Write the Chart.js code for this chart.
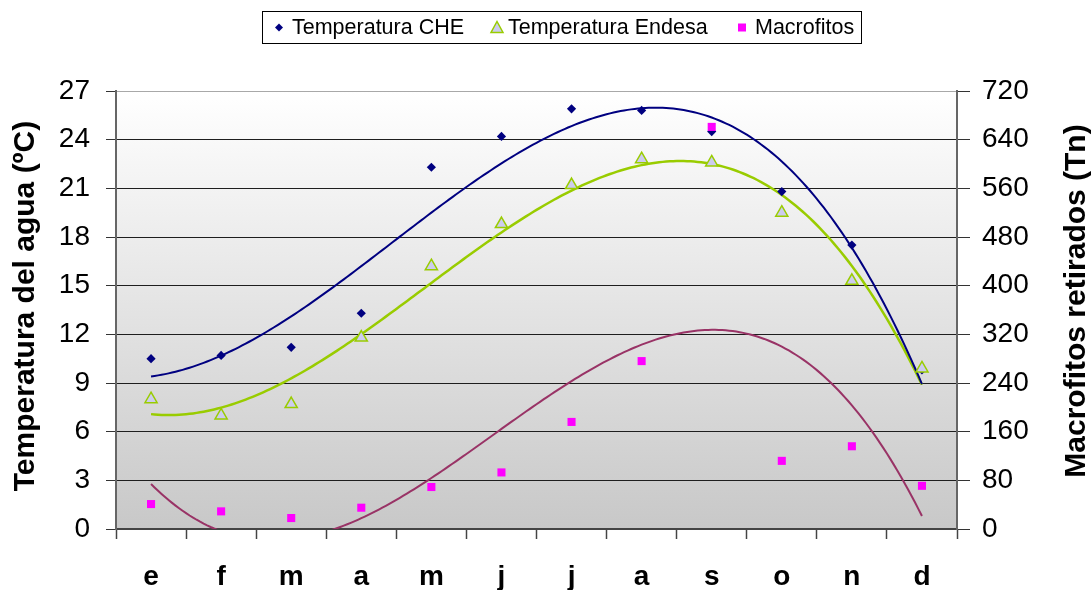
<!DOCTYPE html>
<html>
<head>
<meta charset="utf-8">
<script src="https://cdn.jsdelivr.net/npm/chart.js@4.4.1/dist/chart.umd.min.js"></script>
<style>
  html, body { margin: 0; padding: 0; background: #fff; }
  canvas { display: block; }
</style>
</head>
<body>
<canvas id="chart" width="1091" height="590"></canvas>
<script>
// Data
const months = ['e', 'f', 'm', 'a', 'm', 'j', 'j', 'a', 's', 'o', 'n', 'd'];
const seriesNames = ['Temperatura CHE', 'Temperatura Endesa', 'Macrofitos'];
const tempCHE = [10.5, 10.7, 11.2, 13.3, 22.3, 24.2, 25.9, 25.8, 24.5, 20.8, 17.5, 9.8];
const tempEndesa = [8.0, 7.0, 7.7, 11.8, 16.2, 18.8, 21.2, 22.8, 22.6, 19.5, 15.3, 9.9];
const macrofitos = [41, 29, 18, 35, 69, 93, 176, 276, 661, 112, 136, 71];
const tempTicks = [0, 3, 6, 9, 12, 15, 18, 21, 24, 27];
const macroTicks = [0, 80, 160, 240, 320, 400, 480, 560, 640, 720];

const FONT = '"Liberation Sans", Arial, sans-serif';
Chart.defaults.font.family = FONT;
Chart.defaults.color = '#000';

// least squares polynomial (like an Excel polynomial trendline)
function polyFit(xs, ys, order) {
  const n = order + 1;
  const A = Array.from({ length: n }, () => new Array(n + 1).fill(0));
  for (let k = 0; k < xs.length; k++) {
    for (let i = 0; i < n; i++) {
      for (let j = 0; j < n; j++) A[i][j] += Math.pow(xs[k], i + j);
      A[i][n] += ys[k] * Math.pow(xs[k], i);
    }
  }
  for (let c = 0; c < n; c++) {
    let p = c;
    for (let r = c + 1; r < n; r++) if (Math.abs(A[r][c]) > Math.abs(A[p][c])) p = r;
    [A[c], A[p]] = [A[p], A[c]];
    for (let r = 0; r < n; r++) {
      if (r === c) continue;
      const f = A[r][c] / A[c][c];
      for (let k = c; k <= n; k++) A[r][k] -= f * A[c][k];
    }
  }
  return A.map((row, i) => row[n] / row[i]);
}

function trendPoints(values, order) {
  const xs = values.map((_, i) => i + 1);
  const coef = polyFit(xs, values, order);
  const pts = [];
  for (let x = 1; x <= 12.0001; x += 0.05) {
    let y = 0;
    coef.forEach((c, i) => { y += c * Math.pow(x, i); });
    pts.push({ x: x, y: y });
  }
  return pts;
}

const asPoints = vals => vals.map((v, i) => ({ x: i + 1, y: v }));

const plotBackground = {
  id: 'plotBackground',
  beforeDraw(chart) {
    const { ctx, chartArea: a } = chart;
    const g = ctx.createLinearGradient(0, a.top, 0, a.bottom);
    g.addColorStop(0, '#ffffff');
    g.addColorStop(1, '#c8c8c8');
    ctx.save();
    ctx.fillStyle = g;
    ctx.fillRect(a.left, a.top, a.right - a.left, a.bottom - a.top);
    ctx.restore();
  }
};

const axisTitles = {
  id: 'axisTitles',
  afterDraw(chart) {
    const ctx = chart.ctx;
    ctx.save();
    ctx.font = 'bold 30px ' + FONT;
    ctx.fillStyle = '#000';
    ctx.textAlign = 'center';
    ctx.textBaseline = 'middle';
    ctx.translate(26, 306);
    ctx.rotate(-Math.PI / 2);
    ctx.fillText('Temperatura del agua (ºC)', 0, 0);
    ctx.restore();

    ctx.save();
    ctx.font = 'bold 30px ' + FONT;
    ctx.fillStyle = '#000';
    ctx.textAlign = 'center';
    ctx.textBaseline = 'middle';
    ctx.translate(1077, 301);
    ctx.rotate(-Math.PI / 2);
    ctx.fillText('Macrofitos retirados (Tn)', 0, 0);
    ctx.restore();
  }
};

// boxed legend like the original
const boxLegend = {
  id: 'boxLegend',
  afterDraw(chart) {
    const ctx = chart.ctx;
    const y = 27.5;
    ctx.save();
    ctx.strokeStyle = '#000';
    ctx.lineWidth = 1;
    ctx.strokeRect(262.5, 11.5, 599, 32);

    // diamond
    ctx.fillStyle = '#000080';
    ctx.beginPath();
    ctx.moveTo(279, y - 4);
    ctx.lineTo(283, y);
    ctx.lineTo(279, y + 4);
    ctx.lineTo(275, y);
    ctx.closePath();
    ctx.fill();

    // triangle
    ctx.fillStyle = '#ccccee';
    ctx.strokeStyle = '#99cc00';
    ctx.lineWidth = 1.5;
    ctx.beginPath();
    ctx.moveTo(497, y - 6);
    ctx.lineTo(503, y + 5);
    ctx.lineTo(491, y + 5);
    ctx.closePath();
    ctx.fill();
    ctx.stroke();

    // square
    ctx.fillStyle = '#ff00ff';
    ctx.fillRect(738, y - 4, 8, 8);

    ctx.fillStyle = '#000';
    ctx.font = '21.5px ' + FONT;
    ctx.textBaseline = 'middle';
    ctx.textAlign = 'left';
    ctx.fillText(seriesNames[0], 292, y + 1);
    ctx.fillText(seriesNames[1], 508, y + 1);
    ctx.fillText(seriesNames[2], 755, y + 1);
    ctx.restore();
  }
};

new Chart(document.getElementById('chart'), {
  type: 'scatter',
  data: {
    datasets: [
      {
        label: seriesNames[2],
        data: asPoints(macrofitos),
        yAxisID: 'y1',
        pointStyle: 'rect',
        pointRadius: 5.7,
        backgroundColor: '#ff00ff',
        borderColor: '#ff00ff',
        borderWidth: 0
      },
      {
        label: seriesNames[1],
        data: asPoints(tempEndesa),
        yAxisID: 'y',
        pointStyle: 'triangle',
        pointRadius: 7,
        backgroundColor: '#ccccee',
        borderColor: '#99cc00',
        borderWidth: 1.5
      },
      {
        label: seriesNames[0],
        data: asPoints(tempCHE),
        yAxisID: 'y',
        pointStyle: 'rectRot',
        pointRadius: 4.6,
        backgroundColor: '#000080',
        borderColor: '#000080',
        borderWidth: 0
      },
      {
        label: 'trend CHE',
        data: trendPoints(tempCHE, 3),
        yAxisID: 'y',
        showLine: true,
        pointRadius: 0,
        borderColor: '#000080',
        borderWidth: 2,
        clip: 0
      },
      {
        label: 'trend Endesa',
        data: trendPoints(tempEndesa, 3),
        yAxisID: 'y',
        showLine: true,
        pointRadius: 0,
        borderColor: '#99cc00',
        borderWidth: 2.5,
        clip: 0
      },
      {
        label: 'trend Macrofitos',
        data: trendPoints(macrofitos, 3),
        yAxisID: 'y1',
        showLine: true,
        pointRadius: 0,
        borderColor: '#993366',
        borderWidth: 2,
        clip: 0
      }
    ]
  },
  options: {
    responsive: false,
    animation: false,
    devicePixelRatio: 1,
    layout: { padding: { top: 91, left: 0, right: 0, bottom: 0 } },
    plugins: {
      legend: { display: false },
      tooltip: { enabled: false }
    },
    scales: {
      x: {
        type: 'linear',
        min: 0.5,
        max: 12.5,
        afterBuildTicks(scale) {
          const ticks = [];
          for (let i = 0; i <= months.length; i++) {
            ticks.push({ value: i + 0.5 });
            if (i < months.length) ticks.push({ value: i + 1 });
          }
          scale.ticks = ticks;
        },
        afterFit(scale) { scale.height = 61; },
        ticks: {
          autoSkip: false,
          maxRotation: 0,
          padding: 21,
          font: { size: 28, weight: 'bold' },
          callback: v => Number.isInteger(v) ? months[v - 1] : ''
        },
        grid: {
          drawOnChartArea: false,
          tickLength: 10,
          tickWidth: 1.5,
          tickColor: c => Number.isInteger(c.tick.value) ? 'rgba(0,0,0,0)' : '#444'
        },
        border: { color: '#444', width: 2 }
      },
      y: {
        position: 'left',
        min: 0,
        max: 27,
        afterBuildTicks(scale) { scale.ticks = tempTicks.map(v => ({ value: v })); },
        afterFit(scale) { scale.width = 116; },
        ticks: { padding: 16, font: { size: 28 } },
        grid: {
          color: c => c.tick.value === 27 ? '#a8a8a8' : '#1e1e1e',
          lineWidth: 1,
          tickLength: 10,
          tickColor: '#333'
        },
        border: { color: '#666', width: 2 }
      },
      y1: {
        position: 'right',
        min: 0,
        max: 720,
        afterBuildTicks(scale) { scale.ticks = macroTicks.map(v => ({ value: v })); },
        afterFit(scale) { scale.width = 134; },
        ticks: { padding: 12, font: { size: 28 } },
        grid: {
          drawOnChartArea: false,
          tickLength: 13,
          tickColor: '#333'
        },
        border: { color: '#666', width: 2 }
      }
    }
  },
  plugins: [plotBackground, axisTitles, boxLegend]
});
</script>
</body>
</html>
